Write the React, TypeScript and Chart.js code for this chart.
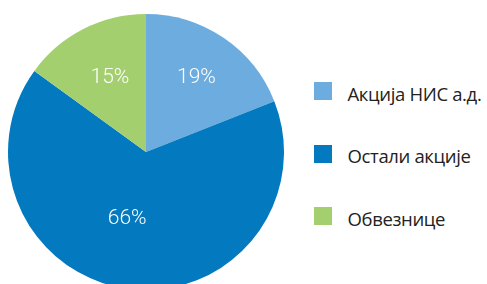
import React, { useEffect, useRef } from "react";
import { Chart, registerables } from "chart.js";

Chart.register(...registerables);

const categories = ["Акција НИС а.д.", "Остали акције", "Обвезнице"];
const shares = [19, 66, 15];
const sliceColors = ["#6DACDE", "#037ABF", "#A4CF6E"];
// label placement: fraction of radius and angular tweak (radians) per slice
const labelRadius = [0.65, 0.5, 0.6];
const labelAngleShift = [0, 0.15, 0.02];

const pctLabels = {
  id: "pctLabels",
  afterDatasetsDraw(chart: any) {
    const ctx = chart.ctx;
    const meta = chart.getDatasetMeta(0);
    ctx.save();
    ctx.fillStyle = "#ffffff";
    ctx.font = "300 21px Roboto";
    ctx.textAlign = "center";
    ctx.textBaseline = "middle";
    meta.data.forEach((arc: any, i: number) => {
      const p = arc.getProps(["x", "y", "startAngle", "endAngle", "outerRadius"], true);
      const a = (p.startAngle + p.endAngle) / 2 + labelAngleShift[i];
      const r = p.outerRadius * labelRadius[i];
      ctx.fillText(shares[i] + "%", p.x + Math.cos(a) * r, p.y + Math.sin(a) * r);
    });
    ctx.restore();
  },
};

export default function App() {
  const ref = useRef<HTMLCanvasElement>(null);
  useEffect(() => {
    document.body.style.margin = "0";
    const chart = new Chart(ref.current!, {
      type: "pie",
      data: {
        labels: categories,
        datasets: [
          {
            data: shares,
            backgroundColor: sliceColors,
            borderWidth: 0,
            hoverOffset: 0,
          },
        ],
      },
      options: {
        animation: false,
        responsive: false,
        layout: { padding: { left: 8, right: 8, top: 14, bottom: 14 } },
        plugins: { legend: { display: false }, tooltip: { enabled: false } },
      },
      plugins: [pctLabels],
    });
    return () => chart.destroy();
  }, []);

  return (
    <div style={{ position: "fixed", left: 0, top: 0, width: 487, height: 284, overflow: "hidden", background: "#fff" }}>
      <canvas ref={ref} width={292} height={304} style={{ position: "absolute", left: 0, top: 0 }} />
      <div style={{ position: "absolute", left: 314, top: 82 }}>
        {categories.map((c, i) => (
          <div key={c} style={{ display: "flex", alignItems: "center", height: 18, marginBottom: 44.5 }}>
            <div style={{ width: 18, height: 18, background: sliceColors[i], flex: "none" }} />
            <div
              style={{
                marginLeft: 15.5,
                fontFamily: "'Open Sans', sans-serif",
                fontSize: 18.5,
                letterSpacing: -0.35,
                color: "#222",
                whiteSpace: "nowrap",
                position: "relative",
                top: 2,
              }}
            >
              {c}
            </div>
          </div>
        ))}
      </div>
    </div>
  );
}
